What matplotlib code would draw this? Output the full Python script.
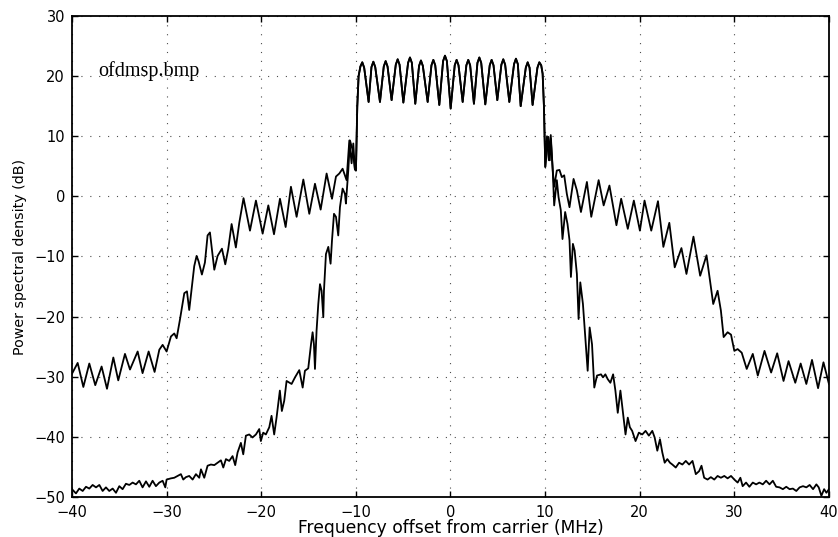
import matplotlib.pyplot as plt
import numpy as np

# ---- data (MHz, dB) ----

# in-band part, shared by both curves
band = [(-9.99, 4.3), (-9.85, 14.9), (-9.71, 20.0), (-9.52, 21.6), (-9.32, 22.3), (-9.12, 21.4), (-8.65, 15.7),
        (-8.35, 21.5), (-8.15, 22.4), (-7.95, 21.5), (-7.45, 15.7),
        (-7.05, 21.6), (-6.85, 22.5), (-6.65, 21.6), (-6.22, 16.0),
        (-5.78, 21.9), (-5.58, 22.8), (-5.38, 21.9), (-4.98, 15.6),
        (-4.48, 22.2), (-4.28, 23.1), (-4.08, 22.2), (-3.72, 15.4),
        (-3.32, 21.7), (-3.12, 22.6), (-2.92, 21.7), (-2.41, 15.7),
        (-2.01, 21.8), (-1.81, 22.7), (-1.61, 21.8), (-1.18, 15.2),
        (-0.78, 22.5), (-0.58, 23.4), (-0.38, 22.5), (0.02, 14.6),
        (0.45, 21.8), (0.65, 22.7), (0.85, 21.8), (1.29, 15.7),
        (1.68, 21.8), (1.88, 22.7), (2.08, 21.8), (2.48, 15.4),
        (2.85, 22.2), (3.05, 23.1), (3.25, 22.2), (3.68, 15.3),
        (4.15, 21.8), (4.35, 22.7), (4.55, 21.8), (4.95, 16.0),
        (5.38, 21.9), (5.58, 22.8), (5.78, 21.9), (6.22, 15.7),
        (6.72, 22.0), (6.92, 22.9), (7.12, 22.0), (7.42, 15.0),
        (7.96, 21.4), (8.16, 22.3), (8.36, 21.4), (8.68, 15.2),
        (9.19, 21.4), (9.39, 22.3), (9.59, 21.8), (9.74, 20.4), (9.88, 14.9), (10.02, 4.9)]

# outer spectrum (higher sidelobes)
outer_left = [(-40.0, -29.5), (-39.40, -27.7), (-38.80, -31.7), (-38.17, -27.8), (-37.54, -31.4),
              (-36.87, -28.3), (-36.30, -32.0), (-35.63, -26.8), (-35.11, -30.6), (-34.40, -26.2),
              (-33.87, -28.8), (-33.06, -25.8), (-32.54, -29.4), (-31.90, -25.8), (-31.27, -29.2),
              (-30.77, -25.5), (-30.42, -24.7), (-30.0, -25.8), (-29.54, -23.3), (-29.19, -22.8),
              (-28.94, -23.6), (-28.59, -20.5), (-28.13, -16.1), (-27.85, -15.8), (-27.61, -18.9),
              (-27.32, -14.9), (-27.08, -11.6), (-26.83, -9.9), (-26.62, -10.8), (-26.27, -13.0),
              (-25.95, -11.0), (-25.67, -6.5), (-25.42, -6.0), (-24.96, -12.2), (-24.61, -9.9),
              (-24.15, -8.7), (-23.80, -11.3), (-23.49, -8.8), (-23.13, -4.6), (-22.68, -8.5),
              (-22.32, -4.4), (-21.87, -0.3), (-21.19, -5.7), (-20.56, -0.7), (-19.85, -6.2),
              (-19.25, -1.5), (-18.65, -6.3), (-18.02, -0.4), (-17.42, -5.1), (-16.86, 1.6),
              (-16.26, -3.4), (-15.55, 2.8), (-14.92, -2.9), (-14.32, 2.1), (-13.72, -2.2),
              (-13.09, 3.8), (-12.52, -0.4), (-12.10, 3.3), (-11.75, 3.8), (-11.40, 4.6),
              (-10.98, 2.7), (-10.69, 9.3), (-10.45, 5.5), (-10.27, 8.8), (-10.10, 4.5)]

outer_right = [(10.35, 9.9), (10.50, 6.0), (10.60, 10.2), (10.81, 4.3), (10.96, 1.6),
               (11.24, 4.3), (11.52, 4.4), (11.77, 3.2), (12.02, 3.5), (12.30, 0.4),
               (12.58, -1.8), (13.01, 2.9), (13.36, 1.0), (13.79, -2.6), (14.42, 2.4),
               (14.88, -3.4), (15.66, 2.7), (16.19, -1.5), (16.80, 1.8), (17.54, -4.8),
               (18.04, -0.4), (18.74, -5.4), (19.38, -0.7), (20.02, -5.7), (20.51, -0.7),
               (21.22, -5.7), (21.93, -0.8), (22.50, -8.4), (23.13, -4.4), (23.70, -11.8),
               (24.41, -8.6), (24.94, -12.9), (25.68, -6.7), (26.39, -13.2), (27.06, -9.8),
               (27.77, -17.9), (28.23, -15.7), (28.58, -19.0), (28.87, -23.4), (29.29, -22.6),
               (29.65, -23.0), (30.0, -25.7), (30.35, -25.4), (30.78, -26.0), (31.31, -28.7),
               (31.95, -26.2), (32.48, -29.8), (33.19, -25.7), (33.89, -29.3), (34.53, -26.1),
               (35.20, -30.7), (35.73, -27.4), (36.44, -31.0), (37.01, -27.8), (37.61, -31.2),
               (38.21, -27.2), (38.85, -31.9), (39.42, -27.6), (40.0, -31.2)]

# inner spectrum (lower sidelobes)
inner_left = [(-40.0, -48.7), (-39.58, -49.4), (-39.23, -48.6), (-38.87, -49.0), (-38.52, -48.3),
              (-38.17, -48.6), (-37.82, -48.0), (-37.46, -48.4), (-37.11, -48.0), (-36.76, -49.0),
              (-36.41, -48.4), (-36.06, -49.0), (-35.70, -48.6), (-35.35, -49.3), (-35.0, -48.2),
              (-34.65, -48.7), (-34.30, -47.8), (-33.94, -48.0), (-33.59, -47.6), (-33.24, -47.9),
              (-32.89, -47.3), (-32.54, -48.4), (-32.18, -47.4), (-31.83, -48.3), (-31.48, -47.3),
              (-31.13, -48.2), (-30.77, -47.6), (-30.42, -47.3), (-30.14, -48.4), (-30.0, -47.1),
              (-29.54, -46.9), (-29.19, -46.8), (-28.84, -46.5), (-28.49, -46.2), (-28.24, -47.1),
              (-27.96, -46.7), (-27.61, -46.5), (-27.25, -47.1), (-26.90, -46.2), (-26.55, -46.8),
              (-26.37, -45.4), (-26.02, -46.8), (-25.67, -44.8), (-25.32, -44.6), (-24.96, -44.7),
              (-24.61, -44.3), (-24.26, -43.9), (-24.01, -45.1), (-23.73, -43.7), (-23.38, -44.0),
              (-23.03, -43.2), (-22.75, -44.7), (-22.50, -42.6), (-22.15, -41.0), (-21.90, -42.9),
              (-21.62, -39.8), (-21.27, -39.6), (-20.92, -40.1), (-20.56, -39.6), (-20.21, -38.7),
              (-20.04, -40.7), (-19.79, -39.3), (-19.51, -39.6), (-19.15, -38.4), (-18.91, -36.5),
              (-18.63, -39.6), (-18.38, -36.8), (-18.03, -32.3), (-17.82, -35.7), (-17.57, -34.0),
              (-17.32, -30.7), (-16.79, -31.2), (-16.43, -30.1), (-15.98, -28.9), (-15.62, -31.8),
              (-15.38, -29.0), (-15.03, -28.6), (-14.74, -24.6), (-14.57, -22.6), (-14.43, -24.6),
              (-14.32, -28.7), (-14.15, -22.3), (-13.97, -17.9), (-13.79, -14.6), (-13.62, -15.7),
              (-13.44, -20.1), (-13.37, -15.7), (-13.16, -9.6), (-12.91, -8.4), (-12.67, -11.2),
              (-12.52, -7.3), (-12.31, -2.9), (-12.10, -3.4), (-11.86, -6.5), (-11.68, -1.8),
              (-11.40, 1.3), (-11.15, 0.4), (-11.05, -1.2), (-10.80, 4.3), (-10.62, 9.3),
              (-10.34, 7.7), (-10.10, 4.5)]

inner_right = [(10.20, 10.0), (10.40, 6.0), (10.60, 9.6), (10.81, 4.3), (10.96, -1.5),
               (11.24, 2.7), (11.42, -0.1), (11.66, -2.3), (11.84, -7.1), (12.12, -2.6),
               (12.37, -4.6), (12.58, -7.3), (12.73, -13.4), (12.94, -7.9), (13.12, -9.0),
               (13.36, -12.9), (13.54, -20.4), (13.72, -14.3), (14.00, -17.9), (14.25, -23.4),
               (14.50, -29.0), (14.71, -21.8), (14.96, -24.6), (15.20, -31.8), (15.49, -29.8),
               (15.91, -29.6), (16.12, -30.1), (16.37, -29.6), (16.62, -30.4), (16.90, -31.0),
               (17.19, -29.6), (17.43, -32.3), (17.68, -36.0), (17.96, -32.3), (18.25, -36.2),
               (18.50, -39.6), (18.74, -36.8), (18.96, -38.4), (19.20, -39.0), (19.56, -40.7),
               (19.91, -39.3), (20.27, -39.6), (20.62, -39.0), (20.97, -39.8), (21.33, -39.0),
               (21.58, -40.1), (21.86, -42.3), (22.14, -40.4), (22.39, -42.6), (22.64, -44.3),
               (22.92, -43.7), (23.20, -44.3), (23.45, -44.6), (23.81, -45.1), (24.16, -44.3),
               (24.51, -44.6), (24.87, -44.0), (25.22, -44.6), (25.58, -44.0), (25.93, -46.2),
               (26.28, -45.7), (26.53, -44.8), (26.81, -46.8), (27.17, -47.1), (27.52, -46.7),
               (27.88, -47.1), (28.23, -46.5), (28.58, -46.8), (28.94, -46.5), (29.29, -46.9),
               (29.65, -46.5), (30.00, -47.1), (30.35, -47.6), (30.64, -46.8), (30.88, -48.2),
               (31.24, -47.6), (31.59, -48.3), (31.95, -47.6), (32.30, -47.9), (32.65, -47.6),
               (33.01, -47.9), (33.36, -47.3), (33.72, -47.9), (34.07, -47.3), (34.42, -48.3),
               (34.78, -48.4), (35.13, -48.7), (35.49, -48.3), (35.84, -48.7), (36.19, -48.6),
               (36.55, -49.0), (36.90, -48.4), (37.26, -48.2), (37.61, -48.4), (37.96, -48.0),
               (38.32, -48.7), (38.67, -47.9), (38.92, -48.4), (39.20, -49.8), (39.49, -48.7),
               (39.73, -49.3), (40.00, -48.7)]

x_ticks = [-40, -30, -20, -10, 0, 10, 20, 30, 40]
y_ticks = [-50, -40, -30, -20, -10, 0, 10, 20, 30]

outer = np.array(outer_left + band + outer_right)
inner = np.array(inner_left + band + inner_right)

fig = plt.figure(figsize=(8.38, 5.37), dpi=100)
ax = fig.add_axes([0.0859, 0.0745, 0.9033, 0.8957])

ax.plot(outer[:, 0], outer[:, 1], color='k', lw=1.3)
ax.plot(inner[:, 0], inner[:, 1], color='k', lw=1.3)

ax.set_xlim(-40, 40)
ax.set_ylim(-50, 30)
ax.set_xticks(x_ticks)
ax.set_yticks(y_ticks)

# MATLAB-like frame: ticks inside on all four sides, dotted grid
ax.tick_params(direction='in', top=True, right=True, length=4, width=1,
               labelsize=10.5, pad=6)
ax.tick_params(axis='y', pad=5)
for s in ax.spines.values():
    s.set_linewidth(1.3)
ax.grid(True, color='0.3', linestyle=(0, (1, 7)), linewidth=0.8)

ax.set_xlabel('Frequency offset from carrier (MHz)', fontsize=12.3, va='center')
ax.xaxis.set_label_coords(0.5, -0.064)
ax.set_ylabel('Power spectral density (dB)', fontsize=10.3, va='center')
ax.yaxis.set_label_coords(-0.069, 0.5)

ax.text(-37.25, 20.0, 'ofdmsp.bmp', family='Liberation Serif', fontsize=14.5,
        va='baseline', ha='left')

fig.savefig('out.png', dpi=100)
